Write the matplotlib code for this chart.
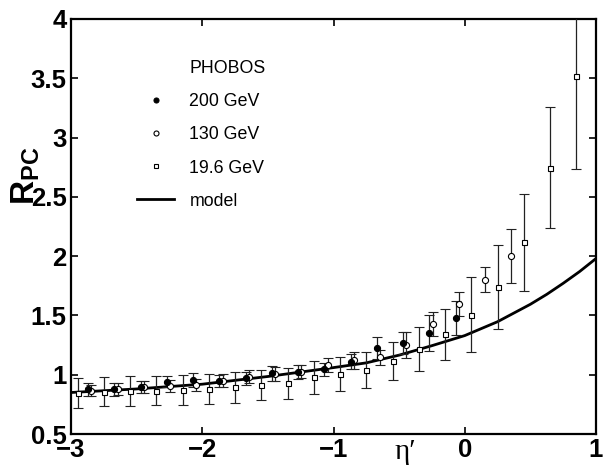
import matplotlib
matplotlib.use("Agg")
import matplotlib.pyplot as plt
from matplotlib.lines import Line2D
from matplotlib.ticker import FuncFormatter

plt.rcParams['font.family'] = ['Liberation Sans', 'DejaVu Sans']
plt.rcParams['mathtext.fontset'] = 'custom'
plt.rcParams['mathtext.rm'] = 'Liberation Sans'
plt.rcParams['mathtext.bf'] = 'Liberation Sans:bold'

# ---- data ----
x200 = [-2.87, -2.67, -2.47, -2.27, -2.07, -1.87, -1.67, -1.47, -1.27, -1.07,
        -0.87, -0.67, -0.47, -0.27, -0.07]
y200 = [0.877, 0.877, 0.894, 0.941, 0.955, 0.947, 0.970, 1.012, 1.025, 1.046,
        1.110, 1.222, 1.270, 1.352, 1.476]
e200 = [0.056, 0.053, 0.050, 0.048, 0.059, 0.052, 0.056, 0.063, 0.058, 0.056,
        0.065, 0.093, 0.094, 0.155, 0.145]

x130 = [-2.845, -2.645, -2.445, -2.245, -2.045, -1.845, -1.645, -1.445, -1.245,
        -1.045, -0.845, -0.645, -0.445, -0.245, -0.045, 0.155, 0.355]
y130 = [0.865, 0.877, 0.894, 0.905, 0.914, 0.950, 0.983, 1.006, 1.025,
        1.084, 1.120, 1.147, 1.250, 1.428, 1.596, 1.801, 2.004]
e130 = [0.045, 0.050, 0.050, 0.050, 0.050, 0.055, 0.055, 0.055, 0.055,
        0.060, 0.070, 0.063, 0.110, 0.100, 0.100, 0.107, 0.228]

x196 = [-2.95, -2.75, -2.55, -2.35, -2.15, -1.95, -1.75, -1.55, -1.35, -1.15,
        -0.95, -0.75, -0.55, -0.35, -0.15, 0.05, 0.25, 0.45, 0.65, 0.85]
y196 = [0.843, 0.857, 0.865, 0.865, 0.871, 0.877, 0.894, 0.916, 0.927, 0.978,
        1.003, 1.040, 1.116, 1.214, 1.341, 1.504, 1.740, 2.117, 2.746, 3.519]
e196 = [0.127, 0.123, 0.125, 0.121, 0.124, 0.127, 0.130, 0.126, 0.132, 0.140,
        0.144, 0.155, 0.160, 0.185, 0.215, 0.316, 0.351, 0.407, 0.509, 0.784]

xmodel = [-3.0, -2.5, -2.0, -1.5, -1.0, -0.75, -0.5, -0.25, 0.0, 0.25, 0.5,
          0.625, 0.75, 0.875, 1.0]
ymodel = [0.850, 0.880, 0.920, 0.985, 1.060, 1.100, 1.165, 1.245, 1.330, 1.447,
          1.594, 1.678, 1.771, 1.870, 1.980]

xticks = [-3, -2, -1, 0, 1]
yticks = [0.5, 1, 1.5, 2, 2.5, 3, 3.5, 4]
labels = ['PHOBOS', '200 GeV', '130 GeV', '19.6 GeV', 'model']

# ---- figure ----
fig = plt.figure(figsize=(6.03, 4.69), dpi=100)
ax = fig.add_axes([71/603, 35/469, 525/603, 415/469])

ax.plot(xmodel, ymodel, color='black', lw=2.0, zorder=2)

ekw = dict(ecolor='#222222', elinewidth=0.9, capsize=3.6, capthick=0.9,
           linestyle='none', zorder=3)
ax.errorbar(x196, y196, yerr=e196, fmt='s', ms=3.6, mfc='white', mec='black',
            mew=0.8, **ekw)
ax.errorbar(x130, y130, yerr=e130, fmt='o', ms=4.4, mfc='white', mec='black',
            mew=0.8, **ekw)
ax.errorbar(x200, y200, yerr=e200, fmt='o', ms=4.4, mfc='black', mec='black',
            mew=0.8, **ekw)

ax.set_xlim(-3, 1)
ax.set_ylim(0.5, 4)
ax.set_xticks(xticks)
ax.set_yticks(yticks)
ax.yaxis.set_major_formatter(FuncFormatter(lambda v, p: ('%g' % v)))
ax.xaxis.set_major_formatter(FuncFormatter(lambda v, p: ('%g' % v).replace('-', '\u2212')))
ax.tick_params(direction='in', length=5, width=1.2, top=True, right=True,
               labelsize=18.5, pad=3)
for lab in ax.get_xticklabels() + ax.get_yticklabels():
    lab.set_fontweight('bold')
for sp in ax.spines.values():
    sp.set_linewidth(1.6)

fig.text(26/603, 1 - 176/469, r'$\mathbf{R}_{\mathbf{PC}}$', rotation=90,
         ha='center', va='center', fontsize=24)
ax.text(-0.45, 0.35, '\u03b7\u2032', fontsize=21, ha='center', va='center',
        family=['Liberation Serif', 'DejaVu Serif'], clip_on=False)

handles = [Line2D([], [], linestyle='none'),
           Line2D([], [], linestyle='none', marker='o', ms=3.6, mfc='black', mec='black', mew=0.8),
           Line2D([], [], linestyle='none', marker='o', ms=3.6, mfc='white', mec='black', mew=0.8),
           Line2D([], [], linestyle='none', marker='s', ms=3.0, mfc='white', mec='black', mew=0.8),
           Line2D([], [], color='black', lw=2.0)]
leg = ax.legend(handles, labels, loc='upper left',
                bbox_to_anchor=(137/603, 1 - 60/469), bbox_transform=fig.transFigure,
                frameon=False, fontsize=12.8, handlelength=2.1, handletextpad=0.85,
                labelspacing=0.91, borderpad=0, borderaxespad=0)

fig.savefig('out.png', dpi=100)
